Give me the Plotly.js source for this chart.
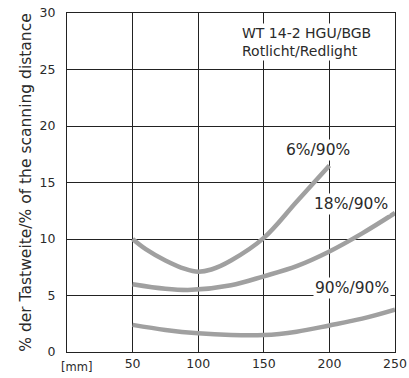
<!DOCTYPE html>
<html>
<head>
<meta charset="utf-8">
<script src="https://cdn.plot.ly/plotly-3.0.1.min.js"></script>
<style>html,body{margin:0;padding:0;background:#fff;}#chart{width:409px;height:378px;}</style>
</head>
<body>
<div id="chart"></div>
<script>
const xTicks = [50, 100, 150, 200, 250];
const yTicks = [0, 5, 10, 15, 20, 25, 30];

const x6 = [50, 60, 75, 90, 100, 110, 125, 150, 175, 200];
const y6 = [10, 9.1, 8.1, 7.35, 7.1, 7.3, 8.1, 10.1, 13.3, 16.5];

const x18 = [50, 75, 95, 125, 150, 175, 200, 225, 250];
const y18 = [6.0, 5.6, 5.5, 5.9, 6.7, 7.6, 8.9, 10.5, 12.3];

const x90 = [50, 75, 100, 125, 150, 175, 200, 225, 250];
const y90 = [2.4, 1.95, 1.65, 1.5, 1.5, 1.8, 2.35, 2.95, 3.75];

const seriesNames = ['6%/90%', '18%/90%', '90%/90%'];
const titleLines = ['WT 14-2 HGU/BGB', 'Rotlicht/Redlight'];

const lineStyle = {color: '#a0a0a0', width: 4.5, shape: 'spline', smoothing: 1};
const traces = [
  {x: x6, y: y6, mode: 'lines', line: lineStyle, name: seriesNames[0], hoverinfo: 'none'},
  {x: x18, y: y18, mode: 'lines', line: lineStyle, name: seriesNames[1], hoverinfo: 'none'},
  {x: x90, y: y90, mode: 'lines', line: lineStyle, name: seriesNames[2], hoverinfo: 'none'}
];

const fontFam = 'DejaVu Sans, sans-serif';
const txt = '#2a2a2a';
const layout = {
  width: 409, height: 378,
  margin: {l: 67, r: 14, t: 13, b: 26},
  paper_bgcolor: '#fff', plot_bgcolor: '#fff',
  showlegend: false,
  font: {family: fontFam, size: 13, color: txt},
  xaxis: {
    range: [0, 250], tickvals: xTicks, ticktext: xTicks.map(String),
    showgrid: true, gridcolor: '#222', gridwidth: 1,
    showline: true, linecolor: '#222', linewidth: 1, mirror: true,
    zeroline: false, ticks: '', fixedrange: true,
    tickfont: {family: fontFam, size: 12.5, color: txt}
  },
  yaxis: {
    range: [0, 30], tickvals: yTicks,
    showgrid: true, gridcolor: '#222', gridwidth: 1,
    showline: true, linecolor: '#222', linewidth: 1, mirror: true,
    zeroline: false, ticks: 'outside', ticklen: 0, tickcolor: '#fff',
    ticklabelstandoff: 8,
    title: {text: '% der Tastweite/% of the scanning distance', font: {family: fontFam, size: 15.5, color: txt}, standoff: 4},
    tickfont: {family: fontFam, size: 12.5, color: txt}
  },
  annotations: [
    {x: 191.5, y: 17.9, text: seriesNames[0], showarrow: false, bgcolor: '#fff', xanchor: 'center', yanchor: 'middle', font: {size: 15.5, color: txt}},
    {x: 216.5, y: 13.1, text: seriesNames[1], showarrow: false, bgcolor: '#fff', xanchor: 'center', yanchor: 'middle', font: {size: 15.5, color: txt}},
    {x: 217, y: 5.7, text: seriesNames[2], showarrow: false, bgcolor: '#fff', xanchor: 'center', yanchor: 'middle', font: {size: 15.5, color: txt}},
    {x: 132, y: 27.45, text: titleLines.join('<br>'), showarrow: false, bgcolor: '#fff', xanchor: 'left', yanchor: 'middle', align: 'left', font: {size: 14, color: txt}},
    {xref: 'paper', yref: 'paper', x: 0.03, y: 0, yshift: -15, text: '[mm]', showarrow: false, xanchor: 'center', yanchor: 'middle', font: {size: 11.5, color: txt}}
  ]
};

Plotly.newPlot('chart', traces, layout, {staticPlot: true, displayModeBar: false});
</script>
</body>
</html>
